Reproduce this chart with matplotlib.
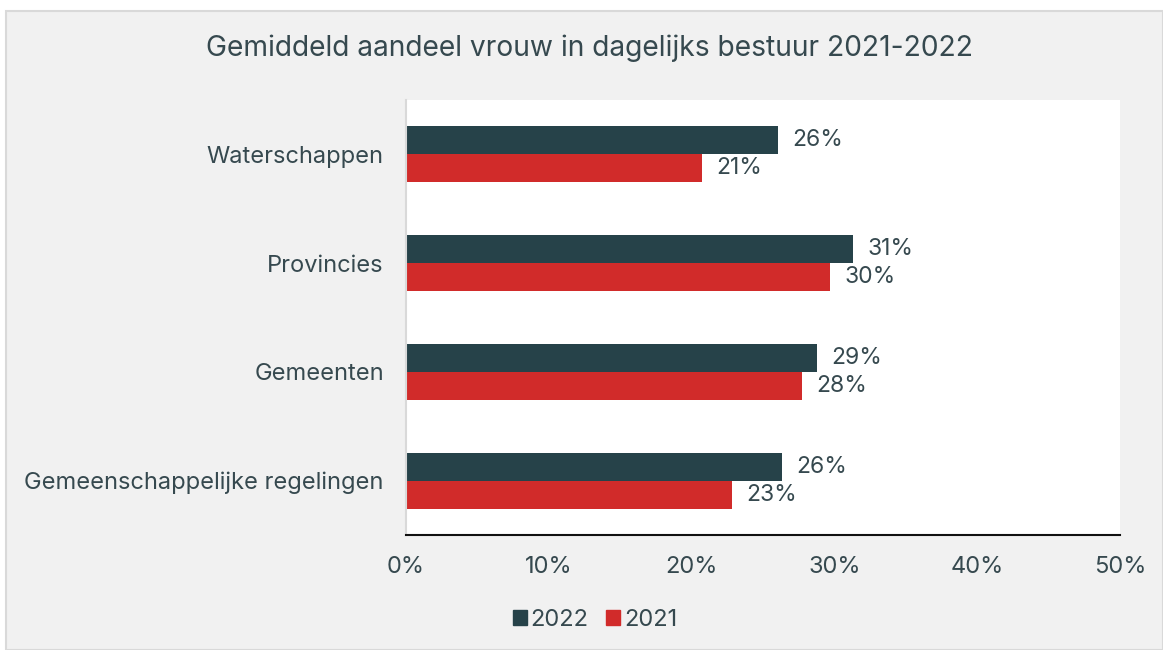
import matplotlib
matplotlib.use("Agg")
import matplotlib.pyplot as plt
from matplotlib.patches import Rectangle, Patch

categories = ["Waterschappen", "Provincies", "Gemeenten", "Gemeenschappelijke regelingen"]
values_2022 = [26.05, 31.3, 28.8, 26.3]
values_2021 = [20.7, 29.7, 27.7, 22.8]
series_labels = ["2022", "2021"]
xticks = [0, 10, 20, 30, 40, 50]

c2022 = "#264249"
c2021 = "#d12b2a"
txt = "#36494f"

plt.rcParams['font.family'] = ['Inter', 'DejaVu Sans']

W, H = 1163, 650
fig = plt.figure(figsize=(W / 100, H / 100), dpi=100, facecolor="white")
fig.patches.append(Rectangle((6 / W, 0), 1 - 6 / W, 1 - 11 / H, transform=fig.transFigure,
                             facecolor="#f1f1f1", edgecolor="#d9d9d9", linewidth=1.5, zorder=-10))

ax = fig.add_axes([406 / W, 1 - 535 / H, (1120 - 406) / W, (535 - 100) / H])
ax.set_facecolor("white")

fs = 17
n = len(categories)
y = list(range(n))
h = 0.257
b1 = ax.barh([i - h / 2 for i in y], values_2022, height=h, color=c2022, label=series_labels[0])
b2 = ax.barh([i + h / 2 for i in y], values_2021, height=h, color=c2021, label=series_labels[1])
for bars, vals in ((b1, values_2022), (b2, values_2021)):
    for bar, v in zip(bars, vals):
        ax.text(v + 1.0, bar.get_y() + bar.get_height() / 2, f"{round(v):d}%",
                va="center", ha="left", fontsize=16.5, color=txt)

ax.set_ylim(n - 0.5, -0.5)
ax.set_xlim(0, 50)
ax.set_yticks(y)
ax.set_yticklabels(categories, fontsize=fs, color=txt)
ax.set_xticks(xticks)
ax.set_xticklabels([f"{t}%" for t in xticks], fontsize=fs, color=txt)
ax.tick_params(axis="both", length=0)
ax.tick_params(axis="y", pad=16)
ax.tick_params(axis="x", pad=15)
for s in ("top", "right"):
    ax.spines[s].set_visible(False)
ax.spines["left"].set_color("#d9d9d9")
ax.spines["left"].set_linewidth(1.5)
ax.spines["bottom"].set_color("#111111")
ax.spines["bottom"].set_linewidth(1.5)

fig.text(590 / W, 1 - 48 / H, "Gemiddeld aandeel vrouw in dagelijks bestuur 2021-2022",
         ha="center", va="center", fontsize=20.3, color=txt)

handles = [Patch(color=c2022, label="2022"), Patch(color=c2021, label="2021")]
fig.legend(handles=handles, loc="center", bbox_to_anchor=(595 / W, 1 - 620 / H), ncol=2,
           frameon=False, fontsize=fs, handlelength=0.6, handleheight=0.6,
           handletextpad=0.15, columnspacing=0.75, labelcolor=txt)

fig.savefig("out.png", dpi=100, facecolor="white")
